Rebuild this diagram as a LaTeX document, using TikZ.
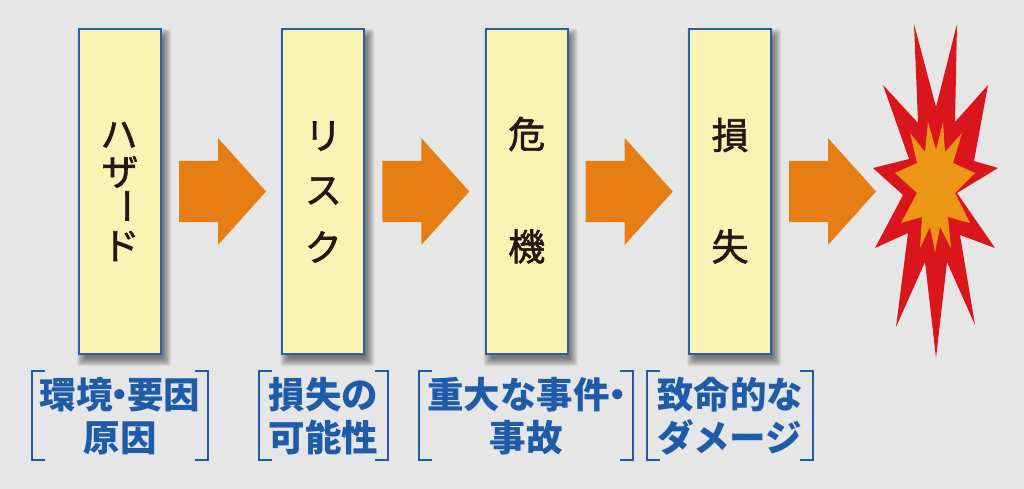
\documentclass[tikz,border=0pt]{standalone}
\usepackage{fontspec}
\newfontfamily\jp{Noto Sans CJK JP}
\newfontfamily\jpmed[FakeBold=1.6]{Noto Sans CJK JP}
\usetikzlibrary{calc}
\definecolor{bgc}{RGB}{230,230,230}
\definecolor{boxfill}{RGB}{250,244,180}
\definecolor{boxline}{RGB}{38,96,170}
\definecolor{arrowc}{RGB}{230,126,20}
\definecolor{boomred}{RGB}{218,22,28}
\definecolor{boomorange}{RGB}{236,150,22}
\definecolor{labelblue}{RGB}{30,92,170}
\definecolor{ink}{RGB}{35,24,21}
\pgfdeclarelayer{bglayer}
\pgfdeclarelayer{shadowlayer}
\pgfsetlayers{bglayer,shadowlayer,main}
\begin{document}
\begin{tikzpicture}[x=1pt,y=-1pt,
  stagebox/.style={draw=boxline,line width=1.8pt,fill=boxfill,minimum width=82pt,minimum height=325pt,inner sep=0pt,outer sep=0pt},
  boxchar/.style={font=\jpmed\fontsize{37}{37}\selectfont,text=ink,inner sep=0pt},
  flowarrow/.style={fill=arrowc},
  labeltext/.style={font=\jp\bfseries\fontsize{36.5}{43}\selectfont,text=labelblue,align=center,inner sep=0pt},
  bracket/.style={draw=labelblue,line width=2.4pt},
]
\begin{pgfonlayer}{bglayer}
\fill[bgc] (0,0) rectangle (1024,489);
\end{pgfonlayer}
\useasboundingbox (0,0) rectangle (1024,489);

% stage boxes
\node[stagebox] (b1) at (120,191.5) {};
\node[stagebox] (b2) at (323.3,191.5) {};
\node[stagebox] (b3) at (526.7,191.5) {};
\node[stagebox] (b4) at (730,191.5) {};

% shadows
\begin{pgfonlayer}{shadowlayer}
\foreach \b in {b1,b2,b3,b4}{
  \foreach \e in {-2,-1,...,6}{
    \fill[black,opacity=0.065,rounded corners=2pt]
      ($(\b.north west)+(4-\e,6-\e)$) rectangle ($(\b.south east)+(4+\e,6+\e)$);
  }
}
\end{pgfonlayer}

% box texts
\node[boxchar] (h1) at (119,135) {ハ};
\node[boxchar] (h2) at (120,172) {ザ};
\node[boxchar,rotate=-90] (h3) at (121,206) {ー};
\node[boxchar] (h4) at (121,246) {ド};
\node[boxchar] (r1) at (323.3,136) {リ};
\node[boxchar] (r2) at (323.3,191) {ス};
\node[boxchar] (r3) at (323.3,247) {ク};
\node[boxchar] (k1) at (526.7,134) {危};
\node[boxchar] (k2) at (526.7,246.5) {機};
\node[boxchar] (s1) at (730,135) {損};
\node[boxchar] (s2) at (730,246.5) {失};

% flow arrows
\foreach \a in {b1,b2,b3,b4}{
  \fill[flowarrow] ($(\a.east)+(18,-30.5)$) -- ++(39,0) -- ++(0,-23) -- ++(48,53.5)
    -- ++(-48,53.5) -- ++(0,-23) -- ++(-39,0) -- cycle;
}

% explosion
\fill[boomred] (914,24) -- (936,107) -- (957,24) -- (955,122) -- (988,85) -- (974,161)
  -- (998,168) -- (957,193) -- (995,248) -- (960,235) -- (975,325) -- (947,262)
  -- (936,358) -- (925,262) -- (896,327) -- (908,233) -- (875,248) -- (903,195)
  -- (873,168) -- (909,159) -- (883,85) -- (918,123) -- cycle;
\fill[boomorange] (928,122) -- (936,150) -- (943,122) -- (945,152) -- (962,133)
  -- (953,163) -- (975,173) -- (955,193) -- (970,223) -- (948,217) -- (951,248)
  -- (940,227) -- (935,252) -- (930,227) -- (920,248) -- (922,217) -- (901,223)
  -- (917,193) -- (895,173) -- (917,163) -- (910,133) -- (925,152) -- cycle;

% labels
\node[labeltext] (l1) at (120,416.5) {環境\kern-.3em・\kern-.3em要因\\原因};
\node[labeltext] (l2) at (323.5,416.5) {損失の\\可能性};
\node[labeltext] (l3) at (526,416.5) {重大な事件\kern-.3em・\kern-.3em\\事故};
\node[labeltext] (l4) at (730,416.5) {致命的な\\ダメージ};

% brackets
\draw[bracket] (45,371) -- (32,371) -- (32,460) -- (45,460);
\draw[bracket] (195,371) -- (208,371) -- (208,460) -- (195,460);
\draw[bracket] (272,371) -- (259,371) -- (259,460) -- (272,460);
\draw[bracket] (375,371) -- (388,371) -- (388,460) -- (375,460);
\draw[bracket] (432,371) -- (419,371) -- (419,460) -- (432,460);
\draw[bracket] (620,371) -- (633,371) -- (633,460) -- (620,460);
\draw[bracket] (660,371) -- (647,371) -- (647,460) -- (660,460);
\draw[bracket] (800,371) -- (813,371) -- (813,460) -- (800,460);
\end{tikzpicture}
\end{document}
